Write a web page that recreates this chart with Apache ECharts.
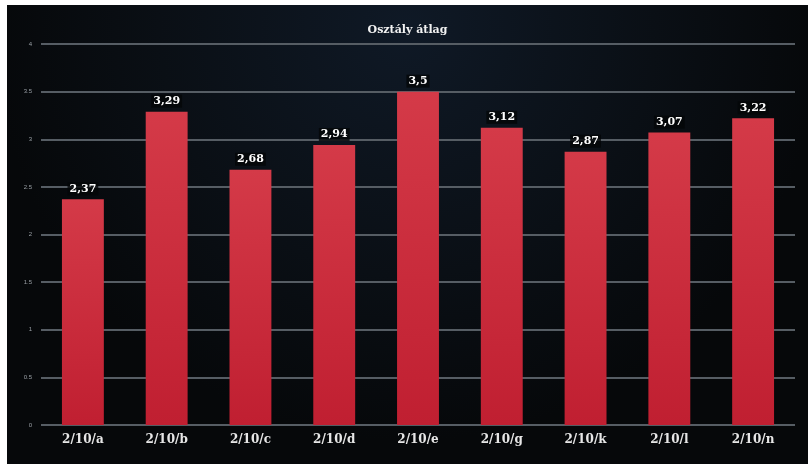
<!DOCTYPE html>
<html>
<head>
<meta charset="utf-8">
<script src="https://cdn.jsdelivr.net/npm/echarts@6/dist/echarts.min.js"></script>
<style>
html,body{margin:0;padding:0;background:#ffffff;width:808px;height:464px;overflow:hidden;}
#chart{position:absolute;left:7px;top:5px;width:801px;height:459px;}
</style>
</head>
<body>
<div id="chart"></div>
<script>
const titleText = 'Osztály átlag';
const categories = ['2/10/a','2/10/b','2/10/c','2/10/d','2/10/e','2/10/g','2/10/k','2/10/l','2/10/n'];
const values = [2.37, 3.29, 2.68, 2.94, 3.5, 3.12, 2.87, 3.07, 3.22];
const yTicks = [0, 0.5, 1, 1.5, 2, 2.5, 3, 3.5, 4];

const chart = echarts.init(document.getElementById('chart'));
chart.setOption({
  backgroundColor: {
    type: 'radial', x: 0.5, y: 0.05, r: 0.9,
    colorStops: [{offset: 0, color: '#0f1926'}, {offset: 0.6, color: '#0a0f15'}, {offset: 1, color: '#06080a'}]
  },
  animation: false,
  title: {
    text: titleText, left: 'center', top: 15,
    textStyle: {color: '#f2f2f2', fontSize: 11, fontWeight: 'bold', fontFamily: 'DejaVu Serif'}
  },
  grid: {left: 34, right: 13, top: 39, bottom: 39},
  xAxis: {
    type: 'category', data: categories,
    axisLine: {show: false}, axisTick: {show: false},
    axisLabel: {color: '#e6e6e6', fontSize: 12, fontWeight: 'bold', fontFamily: 'DejaVu Serif', margin: 9}
  },
  yAxis: {
    type: 'value', min: 0, max: 4, interval: 0.5,
    axisLine: {show: false}, axisTick: {show: false},
    axisLabel: {color: '#9aa0a6', fontSize: 6, margin: 9, formatter: v => String(yTicks.includes(v) ? v : v)},
    splitLine: {lineStyle: {color: '#565d64', width: 2}}
  },
  series: [{
    type: 'bar', data: values, barWidth: '50%',
    itemStyle: {
      color: {type: 'linear', x: 0, y: 0, x2: 0, y2: 1,
        colorStops: [{offset: 0, color: '#d43a48'}, {offset: 1, color: '#c01f31'}]}
    },
    label: {
      show: true, position: 'top', distance: 4,
      color: '#ffffff', fontSize: 11, fontWeight: 'bold', fontFamily: 'DejaVu Serif',
      backgroundColor: 'rgba(4,6,8,0.8)', padding: [1, 2],
      formatter: p => String(p.value).replace('.', ',')
    }
  }]
});
</script>
</body>
</html>
